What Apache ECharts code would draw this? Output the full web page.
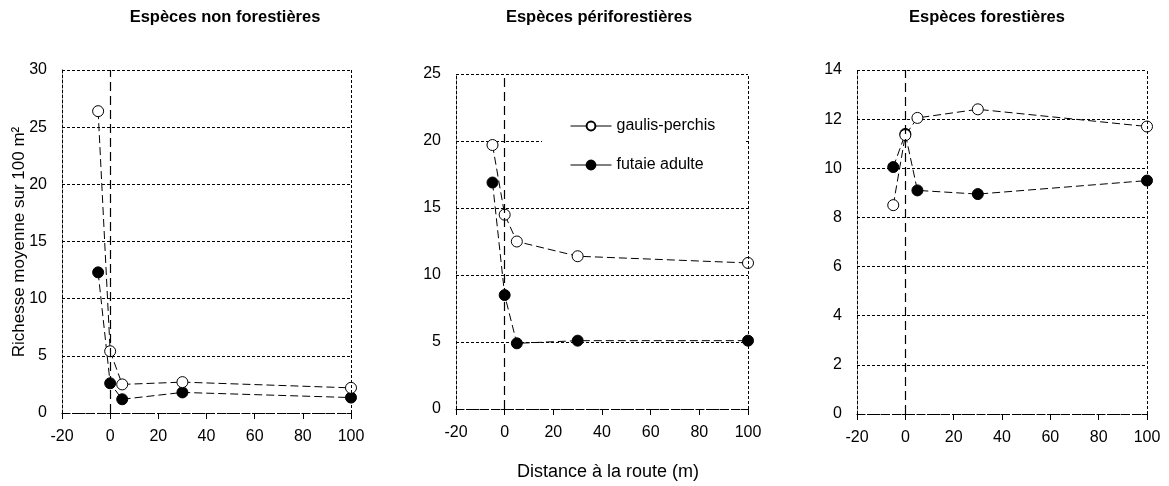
<!DOCTYPE html>
<html><head><meta charset="utf-8">
<script src="https://cdn.jsdelivr.net/npm/echarts@6/dist/echarts.min.js"></script>
<style>html,body{margin:0;padding:0;background:#fff}#c{width:1169px;height:486px}</style>
</head><body><div id="c"></div>
<script>
// ---- data ----
const distances = [-5, 0, 5, 30, 100];
const panelTitles = ['Espèces non forestières', 'Espèces périforestières', 'Espèces forestières'];
const seriesNames = ['gaulis-perchis', 'futaie adulte'];
const nonForestGaulis = [26.4, 5.4, 2.5, 2.7, 2.2];
const nonForestFutaie = [12.3, 2.6, 1.2, 1.8, 1.35];
const periForestGaulis = [19.7, 14.5, 12.5, 11.4, 10.9];
const periForestFutaie = [16.9, 8.5, 4.9, 5.1, 5.1];
const forestGaulis = [8.5, 11.35, 12.05, 12.4, 11.7];
const forestFutaie = [10.05, 11.4, 9.1, 8.95, 9.5];
const yMaxes = [30, 25, 14];
const yIntervals = [5, 5, 2];
const xMin = -20, xMax = 100, xInterval = 20;
const yAxisName = 'Richesse moyenne sur 100 m²';
const xAxisName = 'Distance à la route (m)';

const FONT = '"Liberation Sans", Arial, sans-serif';
const gaulisData = [nonForestGaulis, periForestGaulis, forestGaulis];
const futaieData = [nonForestFutaie, periForestFutaie, forestFutaie];
const pairs = vals => distances.map((d, i) => [d, vals[i]]);

const grids = [
  {left: 62, top: 70, width: 289, height: 343},
  {left: 456, top: 74, width: 292, height: 335},
  {left: 857, top: 70, width: 290, height: 344}
];

const xAxes = grids.map((g, i) => ({
  type: 'value', gridIndex: i, min: xMin, max: xMax, interval: xInterval,
  axisLine: {onZero: false, lineStyle: {color: '#000', width: 1.2, type: [8, 4]}},
  axisTick: {show: true, length: 6, lineStyle: {color: '#000'}},
  axisLabel: {color: '#000', fontSize: 16, fontFamily: FONT, margin: 16},
  splitLine: {show: false}
}));
const yAxes = grids.map((g, i) => ({
  type: 'value', gridIndex: i, min: 0, max: yMaxes[i], interval: yIntervals[i],
  axisLine: {show: true, onZero: false, lineStyle: {color: '#000', width: 1, type: [3, 2]}},
  axisTick: {show: false},
  axisLabel: {color: '#000', fontSize: 16, fontFamily: FONT, margin: 15},
  splitLine: {show: true, lineStyle: {color: '#000', width: 1, type: [3, 2]}}
}));

const series = [];
grids.forEach((g, i) => {
  series.push({
    name: seriesNames[1], type: 'line', xAxisIndex: i, yAxisIndex: i,
    data: pairs(futaieData[i]),
    symbol: 'circle', symbolSize: 11,
    itemStyle: {color: '#000', borderColor: '#000', borderWidth: 1},
    lineStyle: {color: '#000', width: 1, type: [8, 4]},
    z: 3,
    markLine: {
      silent: true, symbol: ['none', 'none'], label: {show: false},
      data: [
        {xAxis: 0, lineStyle: {color: '#000', width: 1.2, type: [9, 5]}},
        {xAxis: xMax, lineStyle: {color: '#000', width: 1, type: [3, 2]}}
      ]
    }
  });
  series.push({
    name: seriesNames[0], type: 'line', xAxisIndex: i, yAxisIndex: i,
    data: pairs(gaulisData[i]),
    symbol: 'circle', symbolSize: 11,
    itemStyle: {color: '#fff', borderColor: '#000', borderWidth: 1},
    lineStyle: {color: '#000', width: 1, type: [8, 4]},
    z: 4
  });
});

const titleX = [225, 599, 987];
const graphics = panelTitles.map((t, i) => ({
  type: 'text', x: titleX[i], y: 17,
  style: {text: t, font: 'bold 16.5px ' + FONT, fill: '#000', textAlign: 'center', textVerticalAlign: 'middle'}
}));
graphics.push({
  type: 'text', x: 19, y: 242, rotation: Math.PI / 2,
  style: {text: yAxisName, font: '17px ' + FONT, fill: '#000', textAlign: 'center', textVerticalAlign: 'middle'}
});
graphics.push({
  type: 'text', x: 608, y: 472,
  style: {text: xAxisName, font: '18px ' + FONT, fill: '#000', textAlign: 'center', textVerticalAlign: 'middle'}
});

const chart = echarts.init(document.getElementById('c'));
chart.setOption({
  animation: false,
  backgroundColor: '#fff',
  grid: grids,
  xAxis: xAxes,
  yAxis: yAxes,
  legend: {
    data: seriesNames, orient: 'vertical', left: 542, top: 108,
    backgroundColor: '#fff', padding: [10, 30, 10, 28],
    itemWidth: 41, itemHeight: 11, itemGap: 23,
    lineStyle: {type: 'solid', width: 1, color: '#000'},
    textStyle: {color: '#000', fontSize: 16, fontFamily: FONT}
  },
  graphic: graphics,
  series: series
});
</script></body></html>
